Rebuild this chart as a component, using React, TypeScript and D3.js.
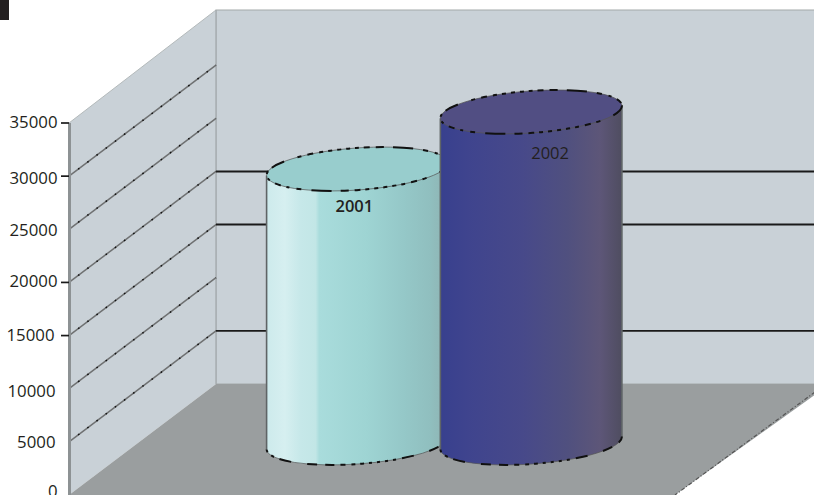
import React from "react";
import * as d3 from "d3";

const WIDTH = 814;
const HEIGHT = 495;

// Value axis and series
const axisTicks = [0, 5000, 10000, 15000, 20000, 25000, 30000, 35000];
const markedTicks = [15000, 20000, 30000, 35000];
const backWallLines = [5000, 15000, 20000];
const sideWallLines = [5000, 10000, 15000, 20000, 25000, 30000];
const categories = ["2001", "2002"];
const values = [25780, 31150];
const labelWeights = [600, 400];
const labelShift = [-3, 19];

// Small per-label nudges for the axis text, in the order of axisTicks
const tickNudgeX = [0, -2, -2, -3, 0, 0, 0, 0];
const tickNudgeY = [-4, 0, 2, -1, -1, 1, 2, -1];

const FONT = '"Open Sans", "Noto Sans", sans-serif';

// The box is drawn in oblique projection: the far plane sits up and to the right.
const left = 69;
const depthX = 147;
const depthY = 111;
const y = d3.scaleLinear().domain([0, 35000]).range([495, 123]);
const x = d3.scaleBand().domain(categories).range([267, 621.5]).paddingInner(-0.04);

const rx = 91;
const ry = 21;
const tilt = 4.1;
const baseRise = 52;

const shaftStops = [
  [
    ["0%", "#cdeaec"], ["10%", "#d6eff0"], ["19%", "#c6e8e9"], ["27%", "#c2e6e6"], ["29%", "#a9dcdc"],
    ["55%", "#9ed4d3"], ["75%", "#95c8c8"], ["90%", "#90bfbf"], ["100%", "#8fb2b2"],
  ],
  [
    ["0%", "#38408e"], ["15%", "#3f448e"], ["45%", "#47498a"], ["70%", "#50507f"], ["88%", "#5d5678"], ["100%", "#4f4d60"],
  ],
];
const capFill = ["#98cdcd", "#514e83"];

function Cylinder({ index }: { index: number }) {
  const cat = categories[index];
  const cx = (x(cat) as number) + x.bandwidth() / 2;
  const bottom = y(0) - baseRise;
  const top = y(values[index]) - baseRise;
  const dx = rx * Math.cos((tilt * Math.PI) / 180);
  const dy = rx * Math.sin((tilt * Math.PI) / 180);
  const arc = `A${rx},${ry} ${-tilt} 0 0`;
  const body =
    `M${cx - dx},${top + dy} L${cx - dx},${bottom + dy} ${arc} ${cx + dx},${bottom - dy} ` +
    `L${cx + dx},${top - dy} Z`;
  const lowerEdge = `M${cx - dx},${bottom + dy} ${arc} ${cx + dx},${bottom - dy}`;
  const sides = `M${cx - dx},${top + dy} L${cx - dx},${bottom + dy} M${cx + dx},${bottom - dy} L${cx + dx},${top - dy}`;
  return (
    <g>
      <path d={body} fill={`url(#shaft-${index})`} />
      <path d={sides} fill="none" stroke="#5f6466" strokeWidth={1.6} />
      <path d={lowerEdge} fill="none" stroke="#555" strokeWidth={0.7} />
      <path d={lowerEdge} fill="none" stroke="#111" strokeWidth={2} strokeDasharray="3 5 3 6 12 16 10 8 9 6 5 6 4 5 4 5 3 5 3 5" />
      <ellipse cx={cx} cy={top} rx={rx} ry={ry} transform={`rotate(${-tilt} ${cx} ${top})`} fill={capFill[index]} stroke="#555" strokeWidth={0.7} />
      <ellipse cx={cx} cy={top} rx={rx} ry={ry} transform={`rotate(${-tilt} ${cx} ${top})`} fill="none" stroke="#111" strokeWidth={2} strokeDasharray="14 14 4 6 6 6 4 5 4 5 4 5 4 5 4 5 6 6 8 9 20 10 5 7 3 6 6 6 3 5 3 5" />
      <text x={cx + labelShift[index]} y={top + (index === 0 ? 43 : 47)} textAnchor="middle" fontFamily={FONT} fontSize={16.5} fontWeight={labelWeights[index]} fill="#231f20">
        {cat}
      </text>
    </g>
  );
}

export default function App() {
  const farY = (v: number) => y(v) - depthY;
  const wallTop = farY(35000) - 2;
  const floorY = y(0) - depthY;
  return (
    <svg width={WIDTH} height={HEIGHT} style={{ position: "fixed", left: 0, top: 0, display: "block" }}>
      <defs>
        {shaftStops.map((stops, i) => (
          <linearGradient key={i} id={`shaft-${i}`} x1="0" x2="1" y1="0" y2="0">
            {stops.map(([o, c]) => (
              <stop key={o} offset={o} stopColor={c} />
            ))}
          </linearGradient>
        ))}
      </defs>
      <rect width={WIDTH} height={HEIGHT} fill="#fff" />
      <rect x={0} y={0} width={9} height={20} fill="#231f20" />

      {/* back wall and side wall */}
      <rect x={left + depthX} y={wallTop} width={WIDTH - left - depthX + 2} height={floorY - wallTop} fill="#c9d1d7" stroke="#a3a9a9" strokeWidth={1} />
      <polygon points={`${left},${y(35000)} ${left + depthX},${wallTop} ${left + depthX},${floorY} ${left},${y(0)}`} fill="#c9d1d7" />
      <line x1={left} y1={y(35000)} x2={left + depthX} y2={wallTop} stroke="#b4babb" strokeWidth={1} />
      <line x1={left + depthX} y1={wallTop} x2={left + depthX} y2={floorY} stroke="#a6adb0" strokeWidth={1.4} />

      {/* floor */}
      <polygon points={`${left},${y(0)} ${left + depthX},${floorY} ${WIDTH + 16},${floorY} 675,${HEIGHT}`} fill="#9a9e9f" />
      <line x1={WIDTH + 1} y1={floorY + 8} x2={675} y2={HEIGHT} stroke="#555" strokeWidth={1.2} strokeDasharray="4 2 1 2" />

      {/* grid on the two walls */}
      {backWallLines.map((v) => (
        <line key={v} x1={left + depthX} x2={WIDTH} y1={farY(v)} y2={farY(v)} stroke="#1a1a1a" strokeWidth={1.9} />
      ))}
      {sideWallLines.map((v) => (
        <g key={v}>
          <line x1={left} y1={y(v)} x2={left + depthX} y2={farY(v)} stroke="#6f7172" strokeWidth={1.5} />
          <line x1={left} y1={y(v)} x2={left + depthX} y2={farY(v)} stroke="#111" strokeWidth={1.5} strokeDasharray="1.5 10" />
        </g>
      ))}

      {/* value axis */}
      <line x1={left + 0.5} x2={left + 0.5} y1={y(35000)} y2={y(0)} stroke="#8d9294" strokeWidth={3} />
      {markedTicks.map((v) => (
        <line key={v} x1={61} x2={left} y1={y(v)} y2={y(v)} stroke="#1a1a1a" strokeWidth={1.7} />
      ))}
      {axisTicks.map((v, i) => (
        <text key={v} x={57.5 + tickNudgeX[i]} y={y(v) + 6 + tickNudgeY[i]} textAnchor="end" fontFamily={FONT} fontSize={16.8} fill="#231f20">
          {v}
        </text>
      ))}

      {categories.map((c, i) => (
        <Cylinder key={c} index={i} />
      ))}
    </svg>
  );
}
